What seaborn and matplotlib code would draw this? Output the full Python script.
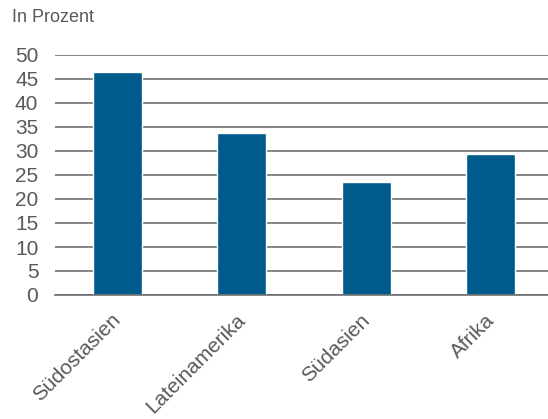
import matplotlib
matplotlib.use("Agg")
import matplotlib.pyplot as plt
import matplotlib.transforms as mtransforms
import seaborn as sns
import pandas as pd
import numpy as np

regions = ["Südostasien", "Lateinamerika", "Südasien", "Afrika"]
shares = [46.5, 33.8, 23.6, 29.3]
y_ticks = [0, 5, 10, 15, 20, 25, 30, 35, 40, 45, 50]

sns.set_style("white")
plt.rcParams["font.family"] = ["Liberation Sans", "DejaVu Sans"]

grey_text = "#595959"
grid_grey = "#6d6f71"
bar_blue = "#005a8c"

df = pd.DataFrame({"Region": regions, "Anteil": shares})

fig = plt.figure(figsize=(5.48, 4.19), dpi=100)
ax = fig.add_axes([55 / 548, 1 - 295 / 419, (553 - 55) / 548, (295 - 55) / 419])

sns.barplot(data=df, x="Region", y="Anteil", color=bar_blue, saturation=1,
            width=0.39, edgecolor="white", linewidth=1.0, ax=ax, zorder=3)

ax.set_ylim(0, 50)
ax.set_xlim(-0.5, len(regions) - 0.5)
ax.set_yticks(y_ticks)
ax.set_yticklabels([str(t) for t in y_ticks])
ax.yaxis.grid(True, color=grid_grey, linewidth=1.2, zorder=0)
ax.set_axisbelow(True)

for s in ["top", "right", "left"]:
    ax.spines[s].set_visible(False)
ax.spines["bottom"].set_color(grid_grey)
ax.spines["bottom"].set_linewidth(1.2)
ax.spines["bottom"].set_zorder(4)

ax.tick_params(axis="y", length=0, pad=12, labelsize=15, labelcolor=grey_text)
# category labels at bar centres, tick marks at category boundaries
ax.tick_params(axis="x", which="major", length=0, pad=11, labelsize=15,
               labelcolor=grey_text)
ax.set_xticks(np.arange(-0.5, len(regions) + 0.5, 1.0), minor=True)
ax.tick_params(axis="x", which="minor", length=5, width=1.2, color=grid_grey,
               direction="out")
shift = mtransforms.ScaledTranslation(-6 / 100, 0, fig.dpi_scale_trans)
for lbl in ax.get_xticklabels():
    lbl.set_rotation(45)
    lbl.set_ha("right")
    lbl.set_va("top")
    lbl.set_rotation_mode("anchor")
    lbl.set_transform(lbl.get_transform() + shift)

ax.set_xlabel("")
ax.set_ylabel("")

fig.text(12 / 548, 1 - 17 / 419, "In Prozent", fontsize=13, color=grey_text,
         ha="left", va="center")

fig.savefig("out.png", dpi=100, facecolor="white")
